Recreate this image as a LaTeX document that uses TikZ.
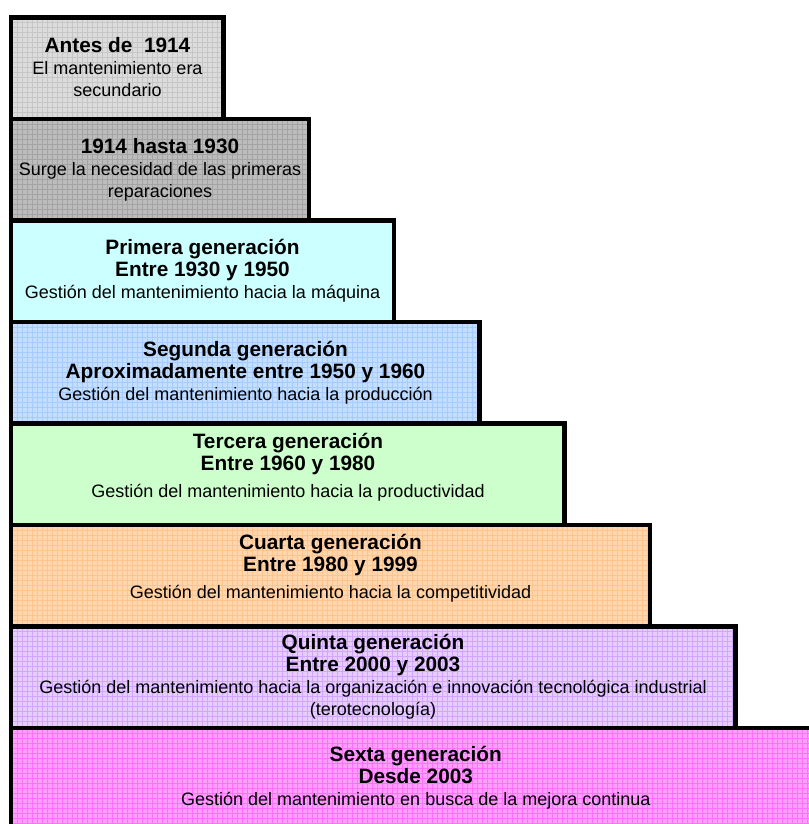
\documentclass[tikz,border=0pt]{standalone}
\usepackage{fontspec}
\setmainfont{Liberation Sans}
\definecolor{g1}{HTML}{DCDCDC}\definecolor{g1l}{HTML}{C6C6C6}
\definecolor{g2}{HTML}{BCBCBC}\definecolor{g2l}{HTML}{A4A4A4}
\definecolor{c3}{HTML}{CCFFFF}
\definecolor{c4}{HTML}{C4DEFF}\definecolor{c4l}{HTML}{A6CCFF}
\definecolor{c5}{HTML}{CCFFCC}
\definecolor{c6}{HTML}{FFD6AE}\definecolor{c6l}{HTML}{FFC48C}
\definecolor{c7}{HTML}{E6CCFF}\definecolor{c7l}{HTML}{D2A6FF}
\definecolor{c8}{HTML}{FF9EFF}\definecolor{c8l}{HTML}{FF70FF}
\newcommand\stairfill[4]{% right, top, fill, grid
  \fill[#3] (11,#2) rectangle (#1,{#2+101.5});
  \ifx#4\relax\else
  \begin{scope}
    \clip (11,#2) rectangle (#1,{#2+101.5});
    \foreach \gx in {12,17,...,830} \draw[#4,line width=0.55pt] (\gx,#2) -- (\gx,{#2+101.5});
    \foreach \gy in {0,5,...,105} \draw[#4,line width=0.55pt] (11,{#2+\gy}) -- (#1,{#2+\gy});
  \end{scope}
  \fi}
\newcommand\stairedge[2]{\draw[stairborder] (11,#2) rectangle (#1,{#2+101.5});}
\begin{document}
\begin{tikzpicture}[x=0.75pt,y=-0.75pt,
  stairborder/.style={line width=3.4pt,line join=miter},
  stairtext/.style={align=center,font=\fontsize{13.5}{16.5}\selectfont,inner sep=0pt}]
\useasboundingbox (0,0) rectangle (809,824);
\begin{scope}
\clip (0,0) rectangle (809,824);
\stairfill{223.5}{17.5}{g1}{g1l}
\stairfill{308.8}{119}{g2}{g2l}
\stairfill{394.1}{220.5}{c3}{\relax}
\stairfill{479.4}{322}{c4}{c4l}
\stairfill{564.7}{423.5}{c5}{\relax}
\stairfill{650}{525}{c6}{c6l}
\stairfill{735.3}{626.5}{c7}{c7l}
\stairfill{830}{728}{c8}{c8l}
\stairedge{223.5}{17.5}
\stairedge{308.8}{119}
\stairedge{394.1}{220.5}
\stairedge{479.4}{322}
\stairedge{564.7}{423.5}
\stairedge{650}{525}
\stairedge{735.3}{626.5}
\stairedge{834}{728}
\end{scope}
\newcommand\ttlfont{\fontsize{15.6}{16.5}\selectfont\bfseries}
\node[stairtext] (t1) at (117.5,67.5) {{\ttlfont Antes de~~1914}\\El mantenimiento era\\secundario};
\node[stairtext] (t2) at (160,169.5) {{\ttlfont 1914 hasta 1930}\\Surge la necesidad de las primeras\\reparaciones};
\node[stairtext] (t3) at (202.5,271) {{\ttlfont Primera generación}\\{\ttlfont Entre 1930 y 1950}\\Gestión del mantenimiento hacia la máquina};
\node[stairtext] (t4) at (245.5,372.5) {{\ttlfont Segunda generación}\\{\ttlfont Aproximadamente entre 1950 y 1960}\\Gestión del mantenimiento hacia la producción};
\node[stairtext] (t5) at (288,467) {{\ttlfont Tercera generación}\\{\ttlfont Entre 1960 y 1980}\\[4pt]Gestión del mantenimiento hacia la productividad};
\node[stairtext] (t6) at (330.5,568) {{\ttlfont Cuarta generación}\\{\ttlfont Entre 1980 y 1999}\\[4pt]Gestión del mantenimiento hacia la competitividad};
\node[stairtext] (t7) at (373,676.5) {{\ttlfont Quinta generación}\\{\ttlfont Entre 2000 y 2003}\\Gestión del mantenimiento hacia la organización e innovación tecnológica industrial\\(terotecnología)};
\node[stairtext] (t8) at (415.8,778) {{\ttlfont Sexta generación}\\{\ttlfont Desde 2003}\\Gestión del mantenimiento en busca de la mejora continua};
\end{tikzpicture}
\end{document}
